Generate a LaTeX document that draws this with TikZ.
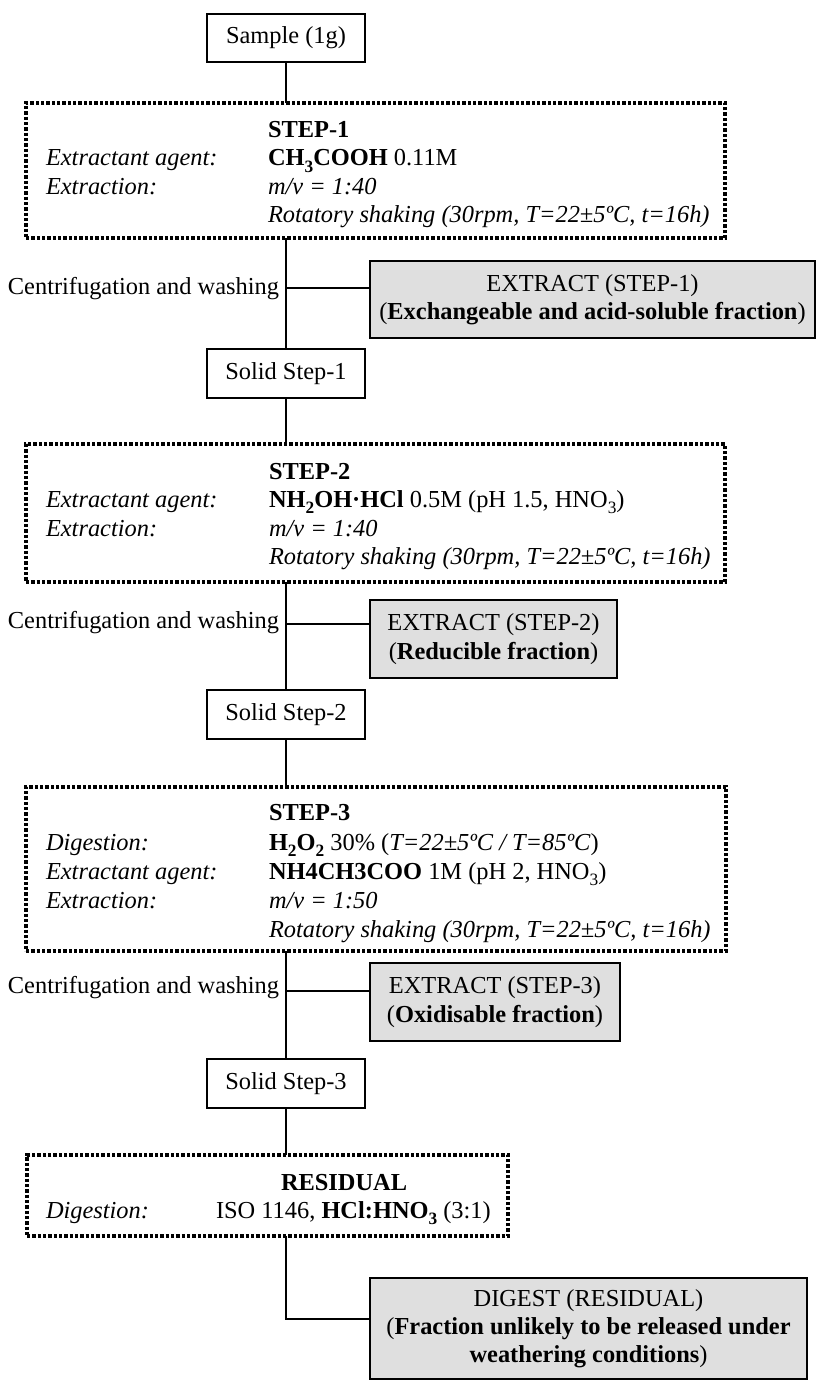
\documentclass[tikz,border=0pt]{standalone}
\usepackage{fontspec}
\setmainfont{Liberation Serif}
\usetikzlibrary{fit}
\newcommand\sbs[1]{\raisebox{-0.55ex}{\fontsize{13pt}{13pt}\selectfont #1}}
\begin{document}
\begin{tikzpicture}[x=0.75pt,y=-0.75pt,
  every node/.style={font=\fontsize{18.3pt}{21.2pt}\selectfont},
  solidbox/.style={draw, line width=1.4pt, inner sep=0pt, outer sep=0pt, minimum width=118.5pt, minimum height=36.5pt},
  graybox/.style={draw, line width=1.4pt, fill=gray!25, inner sep=0pt, outer sep=0pt, align=center},
  dotbox/.style={draw, line width=2.5pt, dash pattern=on 2.4pt off 1.6pt, inner sep=0pt, outer sep=0pt},
  conn/.style={line width=1.4pt},
  txt/.style={anchor=base west, inner sep=0pt, outer sep=0pt},
  lbl/.style={anchor=base east, inner sep=0pt, outer sep=0pt},
]
\useasboundingbox (0,0) rectangle (816,1380);

% ---------- boxes ----------
\node[solidbox] (sample) at (286,38) {Sample (1g)};
\node[dotbox, fit={(26,103)(725,238)}] (step1) {};
\node[graybox, minimum width=333.75pt, minimum height=57.75pt] (extract1) at (592.5,299.5) {EXTRACT (STEP-1)\\(\textbf{Exchangeable and acid-soluble fraction})};
\node[solidbox] (solid1) at (286,373.5) {Solid Step-1};
\node[dotbox, fit={(26,444)(725,582)}] (step2) {};
\node[graybox, minimum width=185.25pt, minimum height=58.5pt] (extract2) at (493.5,639) {EXTRACT (STEP-2)\\(\textbf{Reducible fraction})};
\node[solidbox] (solid2) at (286,714.5) {Solid Step-2};
\node[dotbox, fit={(26,787)(726,951)}] (step3) {};
\node[graybox, minimum width=187.5pt, minimum height=58.5pt] (extract3) at (495,1002) {EXTRACT (STEP-3)\\(\textbf{Oxidisable fraction})};
\node[solidbox] (solid3) at (286,1083.5) {Solid Step-3};
\node[dotbox, fit={(27,1155)(508,1236)}] (residual) {};
\node[graybox, minimum width=327.75pt, minimum height=75.75pt] (digest) at (588.5,1328.5) {DIGEST (RESIDUAL)\\(\textbf{Fraction unlikely to be released under}\\\textbf{weathering conditions})};

% ---------- step 1 texts ----------
\node[txt] (s1h) at (268,138) {\textbf{STEP-1}};
\node[txt] (s1al) at (46,166) {\textit{Extractant agent:}};
\node[txt] (s1av) at (268,166) {\textbf{CH\sbs{3}COOH} 0.11M};
\node[txt] (s1bl) at (46,195) {\textit{Extraction:}};
\node[txt] (s1bv) at (268,195) {\textit{m/v = 1:40}};
\node[txt] (s1cv) at (268,223) {\textit{Rotatory shaking (30rpm, T=22±5ºC, t=16h)}};

% ---------- step 2 texts ----------
\node[txt] (s2h) at (269,479) {\textbf{STEP-2}};
\node[txt] (s2al) at (46,507) {\textit{Extractant agent:}};
\node[txt] (s2av) at (269,507) {\textbf{NH\sbs{2}OH·HCl} 0.5M (pH 1.5, HNO\sbs{3})};
\node[txt] (s2bl) at (46,536) {\textit{Extraction:}};
\node[txt] (s2bv) at (269,536) {\textit{m/v = 1:40}};
\node[txt] (s2cv) at (269,564) {\textit{Rotatory shaking (30rpm, T=22±5ºC, t=16h)}};

% ---------- step 3 texts ----------
\node[txt] (s3h) at (269,820) {\textbf{STEP-3}};
\node[txt] (s3dl) at (46,850) {\textit{Digestion:}};
\node[txt] (s3dv) at (269,850) {\textbf{H\sbs{2}O\sbs{2}} 30\% (\textit{T=22±5ºC / T=85ºC})};
\node[txt] (s3al) at (46,879) {\textit{Extractant agent:}};
\node[txt] (s3av) at (269,879) {\textbf{NH4CH3COO} 1M (pH 2, HNO\sbs{3})};
\node[txt] (s3bl) at (46,908) {\textit{Extraction:}};
\node[txt] (s3bv) at (269,908) {\textit{m/v = 1:50}};
\node[txt] (s3cv) at (269,937) {\textit{Rotatory shaking (30rpm, T=22±5ºC, t=16h)}};

% ---------- residual texts ----------
\node[txt] (rh) at (281,1190) {\textbf{RESIDUAL}};
\node[txt] (rdl) at (46,1218) {\textit{Digestion:}};
\node[txt] (rdv) at (216,1218) {ISO 1146, \textbf{HCl:HNO\sbs{3}} (3:1)};

% ---------- side labels ----------
\node[lbl] (cw1) at (279,294) {Centrifugation and washing};
\node[lbl] (cw2) at (279,628) {Centrifugation and washing};
\node[lbl] (cw3) at (279,993) {Centrifugation and washing};

% ---------- connectors ----------
\coordinate (br1) at (286,288);
\coordinate (br2) at (286,624);
\coordinate (br3) at (286,991);
\coordinate (br4) at (286,1319);

\draw[conn] (sample.south) -- (sample.south |- step1.north);
\draw[conn] (step1.south -| solid1) -- (solid1.north);
\draw[conn] (br1) -- (br1 -| extract1.west);
\draw[conn] (solid1.south) -- (solid1.south |- step2.north);
\draw[conn] (step2.south -| solid2) -- (solid2.north);
\draw[conn] (br2) -- (br2 -| extract2.west);
\draw[conn] (solid2.south) -- (solid2.south |- step3.north);
\draw[conn] (step3.south -| solid3) -- (solid3.north);
\draw[conn] (br3) -- (br3 -| extract3.west);
\draw[conn] (solid3.south) -- (solid3.south |- residual.north);
\draw[conn] (residual.south -| solid3) -- (br4) -- (br4 -| digest.west);
\end{tikzpicture}
\end{document}
